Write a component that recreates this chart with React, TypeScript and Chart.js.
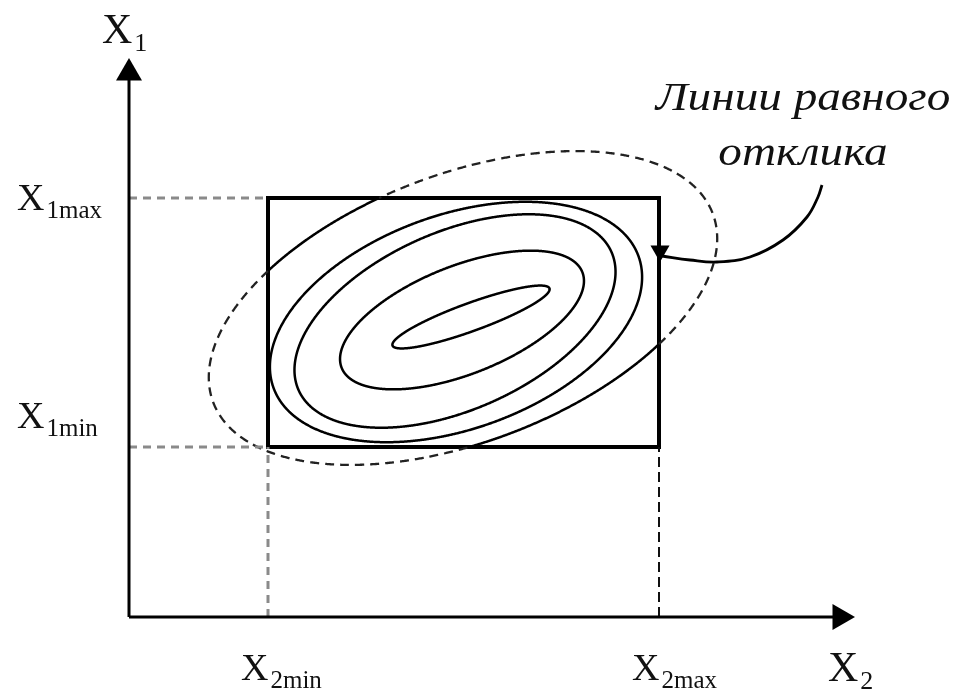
import React, { useEffect, useRef } from "react";
import { Chart, registerables } from "chart.js";

Chart.register(...registerables);

// ---- data (figure units: origin at the axes corner, 1 unit ~ 1 px) ----
const X2_TICKS = [139, 530];
const X2_TICK_SUBS = ["2min", "2max"];
const X1_TICKS = [170, 419];
const X1_TICK_SUBS = ["1min", "1max"];
const AXIS_END = [711, 544]; // X2 axis end, X1 axis end
const AXIS_SUBS = ["2", "1"];

// equal-response contours (ellipses): centre, semi-axes, tilt in degrees
const CONTOUR_CX = [342, 333, 326, 327, 334];
const CONTOUR_CY = [300, 297, 296, 295, 309];
const CONTOUR_A = [83.5, 129.5, 171, 194, 267];
const CONTOUR_B = [14, 54, 89, 107, 134];
const CONTOUR_ANGLE = [20, 21.7, 23.8, 19.8, 20.7];

// leader curve from the annotation to the contour
const LEADER_X = [531, 533, 561, 588, 621, 654, 678, 689, 693];
const LEADER_Y = [366, 361, 357, 355, 360, 377, 400, 420, 432];
const ANNOTATION = ["Линии равного", "отклика"];

const FONT = '"Liberation Serif", "Times New Roman", serif';

type P = { x: number; y: number };

function ellipse(cx: number, cy: number, a: number, b: number, deg: number, n = 720): P[] {
  const th = (deg * Math.PI) / 180;
  const c = Math.cos(th), s = Math.sin(th);
  const pts: P[] = [];
  for (let i = 0; i < n; i++) {
    const t = (i / n) * Math.PI * 2;
    const u = a * Math.cos(t), v = b * Math.sin(t);
    pts.push({ x: cx + u * c - v * s, y: cy + u * s + v * c });
  }
  pts.push({ ...pts[0] });
  return pts;
}

function clipSegments(pts: P[], r: { x0: number; x1: number; y0: number; y1: number }) {
  const inside = (p: P) => p.x >= r.x0 && p.x <= r.x1 && p.y >= r.y0 && p.y <= r.y1;
  const segs: { inside: boolean; pts: P[] }[] = [];
  let state = inside(pts[0]);
  let cur: P[] = [pts[0]];
  for (let i = 1; i < pts.length; i++) {
    const p = pts[i - 1], q = pts[i];
    const s = inside(q);
    if (s === state) { cur.push(q); continue; }
    const a = state ? p : q;
    const b = state ? q : p;
    const dx = b.x - a.x, dy = b.y - a.y;
    let t = 1;
    if (b.x < r.x0) t = Math.min(t, (r.x0 - a.x) / dx);
    if (b.x > r.x1) t = Math.min(t, (r.x1 - a.x) / dx);
    if (b.y < r.y0) t = Math.min(t, (r.y0 - a.y) / dy);
    if (b.y > r.y1) t = Math.min(t, (r.y1 - a.y) / dy);
    const c = { x: a.x + dx * t, y: a.y + dy * t };
    cur.push(c);
    segs.push({ inside: state, pts: cur });
    cur = [c, q];
    state = s;
  }
  segs.push({ inside: state, pts: cur });
  if (segs.length > 1 && segs[0].inside === segs[segs.length - 1].inside) {
    const last = segs.pop()!;
    segs[0].pts = last.pts.concat(segs[0].pts.slice(1));
  }
  return segs;
}

function line(data: P[], extra: any = {}) {
  return {
    data,
    showLine: true,
    pointRadius: 0,
    borderColor: "#000",
    borderWidth: 2.5,
    tension: 0,
    fill: false,
    ...extra,
  };
}

export default function App() {
  const ref = useRef<HTMLCanvasElement | null>(null);

  useEffect(() => {
    if (!ref.current) return;
    const rect = { x0: X2_TICKS[0], x1: X2_TICKS[1], y0: X1_TICKS[0], y1: X1_TICKS[1] };
    const datasets: any[] = [];

    // axes
    datasets.push(line([{ x: 0, y: 0 }, { x: 0, y: AXIS_END[1] }], { borderWidth: 3 }));
    datasets.push(line([{ x: 0, y: 0 }, { x: AXIS_END[0], y: 0 }], { borderWidth: 3 }));
    datasets.push({
      data: [{ x: 0, y: AXIS_END[1] }],
      pointStyle: "triangle", pointRadius: 15, pointRotation: 0,
      backgroundColor: "#000", borderColor: "#000", borderWidth: 0, showLine: false,
    });
    datasets.push({
      data: [{ x: AXIS_END[0], y: 0 }],
      pointStyle: "triangle", pointRadius: 15, pointRotation: 90,
      backgroundColor: "#000", borderColor: "#000", borderWidth: 0, showLine: false,
    });

    // guide dashed lines
    const grey = { borderColor: "#8a8a8a", borderWidth: 3, borderDash: [8, 6] };
    datasets.push(line([{ x: 0, y: X1_TICKS[1] }, { x: X2_TICKS[0], y: X1_TICKS[1] }], grey));
    datasets.push(line([{ x: 0, y: X1_TICKS[0] }, { x: X2_TICKS[0], y: X1_TICKS[0] }], grey));
    datasets.push(line([{ x: X2_TICKS[0], y: 0 }, { x: X2_TICKS[0], y: X1_TICKS[0] }], grey));
    datasets.push(
      line([{ x: X2_TICKS[1], y: 0 }, { x: X2_TICKS[1], y: X1_TICKS[0] }], {
        borderColor: "#111", borderWidth: 2, borderDash: [10, 5],
      })
    );

    // contours
    for (let i = 0; i < CONTOUR_CX.length; i++) {
      const pts = ellipse(CONTOUR_CX[i], CONTOUR_CY[i], CONTOUR_A[i], CONTOUR_B[i], CONTOUR_ANGLE[i]);
      const segs = clipSegments(pts, rect);
      const outer = i === CONTOUR_CX.length - 1;
      for (const s of segs) {
        if (s.inside) datasets.push(line(s.pts, { borderWidth: 2.5, tension: 0.01 }));
        else if (outer)
          datasets.push(line(s.pts, { borderWidth: 2.3, borderDash: [9, 6], borderColor: "#222", tension: 0.01 }));
      }
    }

    // experiment region rectangle
    datasets.push(
      line(
        [
          { x: rect.x0, y: rect.y0 },
          { x: rect.x0, y: rect.y1 },
          { x: rect.x1, y: rect.y1 },
          { x: rect.x1, y: rect.y0 },
          { x: rect.x0, y: rect.y0 },
        ],
        { borderWidth: 4, borderJoinStyle: "miter", borderCapStyle: "square" }
      )
    );

    // leader curve + arrowhead
    datasets.push(
      line(
        LEADER_X.slice(1).map((x, i) => ({ x, y: LEADER_Y[i + 1] })),
        { borderWidth: 2.8, tension: 0.4 }
      )
    );
    datasets.push({
      data: [{ x: LEADER_X[0], y: LEADER_Y[0] }],
      pointStyle: "triangle", pointRadius: 11, pointRotation: 180,
      backgroundColor: "#000", borderColor: "#000", borderWidth: 0, showLine: false,
    });

    const textPlugin = {
      id: "texts",
      afterDatasetsDraw(chart: any) {
        const { ctx } = chart;
        const xs = chart.scales.x, ys = chart.scales.y;
        const px = (v: number) => xs.getPixelForValue(v);
        const py = (v: number) => ys.getPixelForValue(v);
        ctx.save();
        ctx.fillStyle = "#111";
        ctx.textAlign = "left";
        ctx.textBaseline = "alphabetic";
        const drawX = (x: number, y: number, sub: string, big: number, small: number, subDy: number) => {
          ctx.font = `${big}px ${FONT}`;
          ctx.fillText("X", x, y);
          const w = ctx.measureText("X").width;
          ctx.font = `${small}px ${FONT}`;
          ctx.fillText(sub, x + w + 2, y + subDy);
        };
        // tick labels on X2
        X2_TICKS.forEach((t, i) => drawX(px(t) - 27, py(0) + 63, X2_TICK_SUBS[i], 38, 25, 8));
        // tick labels on X1
        const dy = [-19, 12];
        X1_TICKS.forEach((t, i) => drawX(px(0) - 112, py(t) + dy[i], X1_TICK_SUBS[i], 38, 25, 8));
        // axis names
        drawX(px(AXIS_END[0]) - 12, py(0) + 64, AXIS_SUBS[0], 42, 26, 8);
        drawX(px(0) - 27, py(AXIS_END[1]) - 30, AXIS_SUBS[1], 42, 26, 8);
        // annotation
        const ex = px(LEADER_X[LEADER_X.length - 1]);
        const ey = py(LEADER_Y[LEADER_Y.length - 1]);
        ctx.font = `italic 40px ${FONT}`;
        ctx.textAlign = "center";
        const sx = 1.18;
        ANNOTATION.forEach((s, i) => {
          ctx.save();
          ctx.translate(ex - 19, ey + (i === 0 ? -75 : -20));
          ctx.scale(sx, 1);
          ctx.fillText(s, 0, 0);
          ctx.restore();
        });
        ctx.restore();
      },
    };

    const chart = new Chart(ref.current, {
      type: "scatter",
      data: { datasets },
      options: {
        animation: false,
        responsive: false,
        events: [],
        layout: { padding: 0, autoPadding: false },
        plugins: { legend: { display: false }, tooltip: { enabled: false } },
        scales: {
          x: { type: "linear", min: -129, max: 828, display: false },
          y: { type: "linear", min: -77, max: 617, display: false },
        },
      },
      plugins: [textPlugin],
    });
    return () => chart.destroy();
  }, []);

  return (
    <div style={{ position: "absolute", left: 0, top: 0, width: 957, height: 694, background: "#fff" }}>
      <canvas ref={ref} width={957} height={694} style={{ display: "block" }} />
    </div>
  );
}
